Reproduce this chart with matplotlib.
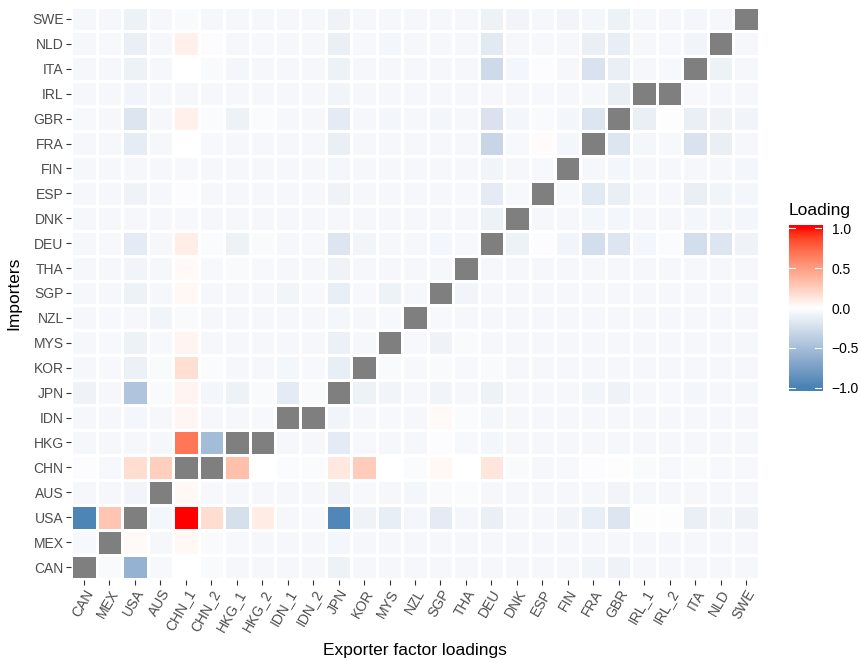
import numpy as np
import matplotlib
matplotlib.use("Agg")
import matplotlib.pyplot as plt
from matplotlib.colors import ListedColormap, Normalize

plt.rcParams['font.family'] = ['Liberation Sans', 'DejaVu Sans']

NA = np.nan
exporters = ["CAN", "MEX", "USA", "AUS", "CHN_1", "CHN_2", "HKG_1", "HKG_2", "IDN_1", "IDN_2",
             "JPN", "KOR", "MYS", "NZL", "SGP", "THA", "DEU", "DNK", "ESP", "FIN", "FRA", "GBR",
             "IRL_1", "IRL_2", "ITA", "NLD", "SWE"]
importers = ["CAN", "MEX", "USA", "AUS", "CHN", "HKG", "IDN", "JPN", "KOR", "MYS", "NZL", "SGP",
             "THA", "DEU", "DNK", "ESP", "FIN", "FRA", "GBR", "IRL", "ITA", "NLD", "SWE"]

row_CAN = [NA, -0.04, -0.60, -0.05, 0.0, -0.04, -0.06, -0.06, -0.06, -0.06, -0.10, -0.06, -0.06, -0.06, -0.06, -0.06, -0.06, -0.06, -0.06, -0.06, -0.08, -0.09, -0.06, -0.06, -0.06, -0.06, -0.06]
row_MEX = [-0.05, NA, 0.03, -0.06, 0.04, -0.04, -0.05, -0.06, -0.06, -0.06, -0.07, -0.06, -0.06, -0.06, -0.06, -0.06, -0.06, -0.06, -0.06, -0.06, -0.06, -0.06, -0.06, -0.06, -0.06, -0.06, -0.06]
row_USA = [-0.97, 0.30, NA, -0.07, 1.0, 0.18, -0.24, 0.10, -0.06, -0.05, -0.95, -0.09, -0.13, -0.07, -0.15, -0.07, -0.12, -0.06, -0.06, -0.08, -0.13, -0.20, -0.01, -0.01, -0.12, -0.08, -0.09]
row_AUS = [-0.06, -0.06, -0.08, NA, 0.04, -0.05, -0.06, -0.06, -0.06, -0.06, -0.09, -0.05, -0.06, -0.07, -0.04, -0.03, -0.06, -0.06, -0.06, -0.06, -0.06, -0.08, -0.06, -0.06, -0.06, -0.06, -0.06]
row_CHN = [-0.02, -0.05, 0.18, 0.25, NA, NA, 0.33, 0.0, -0.03, -0.03, 0.12, 0.27, 0.0, -0.03, 0.04, 0.0, 0.13, -0.04, -0.06, -0.05, -0.02, -0.01, -0.04, -0.05, -0.04, -0.05, -0.05]
row_HKG = [-0.06, -0.06, -0.06, -0.06, 0.68, -0.52, NA, NA, -0.06, -0.06, -0.15, -0.05, -0.06, -0.06, -0.02, -0.05, -0.07, -0.06, -0.06, -0.06, -0.06, -0.06, -0.06, -0.06, -0.06, -0.06, -0.06]
row_IDN = [-0.06, -0.06, -0.07, -0.06, 0.05, -0.06, -0.06, -0.05, NA, NA, -0.08, -0.06, -0.05, -0.06, 0.03, -0.03, -0.07, -0.06, -0.06, -0.06, -0.06, -0.06, -0.06, -0.06, -0.06, -0.06, -0.06]
row_JPN = [-0.09, -0.06, -0.45, -0.04, 0.06, -0.07, -0.10, -0.04, -0.15, -0.04, NA, -0.10, -0.08, -0.06, -0.08, -0.06, -0.10, -0.06, -0.06, -0.06, -0.08, -0.09, -0.06, -0.05, -0.07, -0.06, -0.06]
row_KOR = [-0.06, -0.05, -0.11, -0.04, 0.17, -0.03, -0.06, -0.06, -0.07, -0.05, -0.13, NA, -0.04, -0.05, -0.04, -0.05, -0.04, -0.06, -0.06, -0.06, -0.06, -0.06, -0.06, -0.06, -0.06, -0.06, -0.06]
row_MYS = [-0.06, -0.05, -0.10, -0.05, 0.06, -0.06, -0.06, -0.06, -0.06, -0.06, -0.11, -0.06, NA, -0.05, -0.09, -0.04, -0.06, -0.06, -0.06, -0.06, -0.06, -0.06, -0.06, -0.06, -0.06, -0.06, -0.06]
row_NZL = [-0.06, -0.05, -0.06, -0.08, -0.04, -0.06, -0.06, -0.06, -0.06, -0.06, -0.07, -0.06, -0.05, NA, -0.05, -0.06, -0.06, -0.06, -0.06, -0.06, -0.06, -0.06, -0.06, -0.06, -0.06, -0.06, -0.06]
row_SGP = [-0.06, -0.06, -0.10, -0.06, 0.04, -0.06, -0.06, -0.06, -0.08, -0.05, -0.13, -0.05, -0.10, -0.06, NA, -0.08, -0.06, -0.06, -0.06, -0.06, -0.06, -0.06, -0.06, -0.06, -0.06, -0.06, -0.06]
row_THA = [-0.06, -0.06, -0.08, -0.06, 0.03, -0.05, -0.04, -0.05, -0.06, -0.06, -0.09, -0.06, -0.06, -0.06, -0.06, NA, -0.06, -0.06, -0.06, -0.06, -0.06, -0.06, -0.06, -0.06, -0.06, -0.06, -0.06]
row_DEU = [-0.06, -0.05, -0.15, -0.06, 0.09, -0.03, -0.10, -0.04, -0.06, -0.05, -0.20, -0.08, -0.06, -0.06, -0.07, -0.05, NA, -0.10, -0.02, -0.08, -0.25, -0.20, -0.07, -0.03, -0.25, -0.20, -0.09]
row_DNK = [-0.06, -0.06, -0.06, -0.06, -0.05, -0.06, -0.06, -0.06, -0.06, -0.06, -0.06, -0.06, -0.06, -0.06, -0.06, -0.06, -0.10, NA, -0.06, -0.06, -0.07, -0.07, -0.06, -0.06, -0.07, -0.07, -0.07]
row_ESP = [-0.06, -0.06, -0.09, -0.06, -0.02, -0.06, -0.06, -0.06, -0.06, -0.06, -0.09, -0.06, -0.06, -0.06, -0.06, -0.05, -0.15, -0.05, NA, -0.05, -0.17, -0.12, -0.06, -0.06, -0.12, -0.08, -0.07]
row_FIN = [-0.06, -0.06, -0.06, -0.06, -0.05, -0.06, -0.06, -0.06, -0.06, -0.06, -0.07, -0.06, -0.06, -0.06, -0.06, -0.06, -0.08, -0.06, -0.05, NA, -0.06, -0.07, -0.06, -0.06, -0.06, -0.06, -0.07]
row_FRA = [-0.06, -0.06, -0.14, -0.06, 0.0, -0.05, -0.06, -0.06, -0.06, -0.06, -0.12, -0.06, -0.06, -0.06, -0.06, -0.06, -0.32, -0.05, 0.02, -0.07, NA, -0.20, -0.07, -0.05, -0.22, -0.12, -0.06]
row_GBR = [-0.05, -0.06, -0.20, -0.06, 0.08, -0.03, -0.10, -0.03, -0.06, -0.06, -0.15, -0.06, -0.07, -0.06, -0.07, -0.06, -0.22, -0.07, -0.04, -0.07, -0.20, NA, -0.12, -0.01, -0.12, -0.09, -0.08]
row_IRL = [-0.06, -0.06, -0.08, -0.06, -0.06, -0.06, -0.06, -0.06, -0.06, -0.06, -0.08, -0.06, -0.06, -0.06, -0.06, -0.06, -0.06, -0.06, -0.05, -0.06, -0.06, -0.12, NA, NA, -0.05, -0.06, -0.06]
row_ITA = [-0.06, -0.06, -0.10, -0.06, 0.0, -0.04, -0.07, -0.06, -0.06, -0.06, -0.10, -0.06, -0.06, -0.06, -0.06, -0.06, -0.28, -0.07, -0.02, -0.06, -0.22, -0.12, -0.06, -0.05, NA, -0.10, -0.06]
row_NLD = [-0.06, -0.05, -0.12, -0.06, 0.08, -0.02, -0.06, -0.05, -0.06, -0.06, -0.12, -0.05, -0.07, -0.06, -0.06, -0.06, -0.17, -0.06, -0.05, -0.06, -0.12, -0.13, -0.06, -0.05, -0.08, NA, -0.06]
row_SWE = [-0.06, -0.06, -0.10, -0.06, -0.04, -0.06, -0.06, -0.06, -0.06, -0.06, -0.09, -0.06, -0.06, -0.06, -0.06, -0.06, -0.10, -0.08, -0.06, -0.08, -0.07, -0.10, -0.06, -0.06, -0.07, -0.06, NA]

rows = [row_CAN, row_MEX, row_USA, row_AUS, row_CHN, row_HKG, row_IDN, row_JPN, row_KOR, row_MYS,
        row_NZL, row_SGP, row_THA, row_DEU, row_DNK, row_ESP, row_FIN, row_FRA, row_GBR, row_IRL,
        row_ITA, row_NLD, row_SWE]
Z = np.ma.masked_invalid(np.array(rows, dtype=float))


# ---- ggplot2-like gradient2 (Lab interpolation) ----
def srgb_to_lab(c):
    c = np.asarray(c, float)
    lin = np.where(c <= 0.04045, c / 12.92, ((c + 0.055) / 1.055) ** 2.4)
    M = np.array([[0.4124564, 0.3575761, 0.1804375],
                  [0.2126729, 0.7151522, 0.0721750],
                  [0.0193339, 0.1191920, 0.9503041]])
    xyz = M @ lin
    wp = np.array([0.95047, 1.0, 1.08883])
    t = xyz / wp
    f = np.where(t > (6 / 29) ** 3, np.cbrt(t), t / (3 * (6 / 29) ** 2) + 4 / 29)
    return np.array([116 * f[1] - 16, 500 * (f[0] - f[1]), 200 * (f[1] - f[2])])


def lab_to_srgb(lab):
    L, a, b = lab
    fy = (L + 16) / 116
    fx = fy + a / 500
    fz = fy - b / 200
    def finv(f):
        return np.where(f > 6 / 29, f ** 3, 3 * (6 / 29) ** 2 * (f - 4 / 29))
    wp = np.array([0.95047, 1.0, 1.08883])
    xyz = np.array([finv(fx), finv(fy), finv(fz)]) * wp
    Minv = np.array([[3.2404542, -1.5371385, -0.4985314],
                     [-0.9692660, 1.8760108, 0.0415560],
                     [0.0556434, -0.2040259, 1.0572252]])
    lin = Minv @ xyz
    lin = np.clip(lin, 0, 1)
    c = np.where(lin <= 0.0031308, 12.92 * lin, 1.055 * lin ** (1 / 2.4) - 0.055)
    return np.clip(c, 0, 1)


low = srgb_to_lab([0x46 / 255, 0x82 / 255, 0xB4 / 255])
mid = srgb_to_lab([1, 1, 1])
high = srgb_to_lab([1, 0, 0])
cols = []
for v in np.linspace(-1, 1, 511):
    if v < 0:
        lab = mid + (-v) * (low - mid)
    else:
        lab = mid + v * (high - mid)
    cols.append(lab_to_srgb(lab))
cmap = ListedColormap(cols)
cmap.set_bad('#7F7F7F')
norm = Normalize(-1, 1)

W, H = 861, 663
fig = plt.figure(figsize=(W / 100, H / 100), dpi=100)
x0, x1, y0, y1 = 71.3, 758.7, 6.5, 579.5
ax = fig.add_axes([x0 / W, 1 - y1 / H, (x1 - x0) / W, (y1 - y0) / H])
ax.set_facecolor('#EBEBEB')

nx, ny = len(exporters), len(importers)
xe = np.arange(nx + 1) - 0.5
ye = np.arange(ny + 1) - 0.5
ax.pcolormesh(xe, ye, Z, cmap=cmap, norm=norm, edgecolors='white', linewidth=0.75)
ax.set_xlim(-0.5, nx - 0.5)
ax.set_ylim(-0.5, ny - 0.5)
for s in ax.spines.values():
    s.set_visible(False)

ax.set_xticks(np.arange(nx))
ax.set_xticklabels(exporters, rotation=60, ha='right', va='top', rotation_mode='anchor',
                   fontsize=10, color='#4D4D4D')
ax.set_yticks(np.arange(ny))
ax.set_yticklabels(importers, fontsize=10, color='#4D4D4D')
ax.tick_params(axis='both', length=3.5, width=0.8, color='#333333', pad=2)
ax.set_xlabel('Exporter factor loadings', fontsize=12.5, color='black', labelpad=7)
ax.set_ylabel('Importers', fontsize=12.5, color='black', labelpad=8)

# ---- colorbar legend ----
cb_x0, cb_x1, cb_y0, cb_y1 = 788.5, 822, 225, 391
cax = fig.add_axes([cb_x0 / W, 1 - cb_y1 / H, (cb_x1 - cb_x0) / W, (cb_y1 - cb_y0) / H])
lim = 1.04
grad = np.linspace(-lim, lim, 300).reshape(-1, 1)
cax.imshow(grad, aspect='auto', cmap=cmap, norm=norm, origin='lower', extent=[0, 1, -lim, lim])
cax.set_xlim(0, 1)
cax.set_ylim(-lim, lim)
for s in cax.spines.values():
    s.set_visible(False)
cax.set_xticks([])
cb_ticks = [-1.0, -0.5, 0.0, 0.5, 1.0]
cb_labels = ['\u22121.0', '\u22120.5', '0.0', '0.5', '1.0']
for t in cb_ticks:
    cax.plot([0, 0.2], [t, t], color='white', lw=0.8)
    cax.plot([0.8, 1.0], [t, t], color='white', lw=0.8)
cax.yaxis.tick_right()
cax.set_yticks(cb_ticks)
cax.set_yticklabels(cb_labels, fontsize=10, color='black')
cax.tick_params(axis='y', length=0, pad=7)
fig.text(cb_x0 / W, 1 - 210 / H, 'Loading', fontsize=12.5, ha='left', va='center', color='black')

fig.savefig('out.png', dpi=100, facecolor='white')
